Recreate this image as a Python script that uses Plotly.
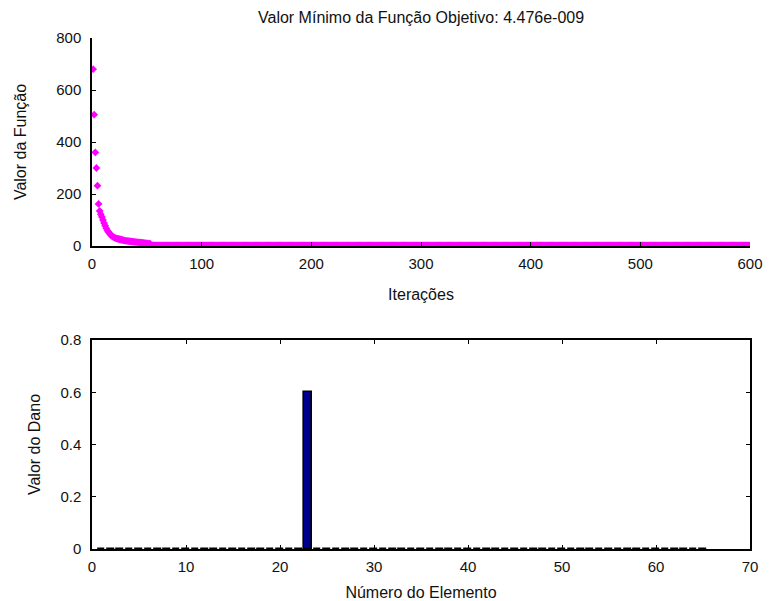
import plotly.graph_objects as go

# top panel: objective value per iteration
head_values = [
    680, 505, 360, 300, 232, 162, 135, 122, 112, 100,
    88, 78, 68, 60, 54, 48, 43, 39, 36, 33,
    31, 29, 28, 27, 26, 25, 24, 23, 22, 21,
    20, 20, 19, 19, 18, 17, 17, 16, 16, 15,
    15, 14, 14, 13, 13, 12, 12, 11, 11, 10,
    10, 9, 9,
]
tail_values = [2.0] * (600 - len(head_values))
func_values = head_values + tail_values
iterations = list(range(1, len(func_values) + 1))

# bottom panel: damage per element
elements = list(range(1, 66))
damage = [0.0] * 65
damage[22] = 0.6  # element 23

title_text = "Valor Mínimo da Função Objetivo: 4.476e-009"

FONT = "Liberation Sans, Arial, sans-serif"

W, H = 769, 601


def px_x(v):
    return v / W


def px_y(v):
    return 1 - v / H


fig = go.Figure()

fig.add_trace(
    go.Scatter(
        x=iterations,
        y=func_values,
        mode="markers",
        marker={"symbol": "diamond", "size": 6, "color": "#FF00FF"},
        xaxis="x",
        yaxis="y",
        showlegend=False,
    )
)

fig.add_trace(
    go.Bar(
        x=elements,
        y=damage,
        width=0.8,
        marker={"color": "#00008F", "line": {"color": "black", "width": 1.6}},
        xaxis="x2",
        yaxis="y2",
        showlegend=False,
    )
)

axis_common = {
    "showgrid": False,
    "zeroline": False,
    "showline": True,
    "automargin": False,
    "linecolor": "black",
    "linewidth": 1.5,
    "ticks": "inside",
    "ticklen": 4,
    "tickcolor": "black",
    "ticklabeloverflow": "allow",
    "tickfont": {"size": 15, "color": "#111111", "family": FONT},
}

x_dom = [px_x(92), px_x(750)]

fig.update_layout(
    width=W,
    height=H,
    margin={"l": 0, "r": 0, "t": 0, "b": 0},
    paper_bgcolor="white",
    plot_bgcolor="white",
    font={"family": FONT, "color": "#111111"},
    bargap=0,
    xaxis={
        **axis_common,
        "domain": x_dom,
        "range": [0, 600],
        "tickvals": [0, 100, 200, 300, 400, 500, 600],
        "ticklabelstandoff": 3,
        "anchor": "y",
        "title": {"text": "Iterações", "font": {"size": 16}, "standoff": 18},
    },
    yaxis={
        **axis_common,
        "domain": [px_y(246), px_y(38)],
        "range": [0, 800],
        "tickvals": [0, 200, 400, 600, 800],
        "ticklabelstandoff": 6,
        "anchor": "x",
        "title": {"text": "Valor da Função", "font": {"size": 16}, "standoff": 26},
    },
    xaxis2={
        **axis_common,
        "domain": x_dom,
        "range": [0, 70],
        "tickvals": [0, 10, 20, 30, 40, 50, 60, 70],
        "ticklabelstandoff": 3,
        "mirror": "ticks",
        "anchor": "y2",
        "title": {"text": "Número do Elemento", "font": {"size": 16}, "standoff": 20},
    },
    yaxis2={
        **axis_common,
        "domain": [px_y(549), px_y(340)],
        "range": [0, 0.8],
        "tickvals": [0, 0.2, 0.4, 0.6, 0.8],
        "ticktext": ["0", "0.2", "0.4", "0.6", "0.8"],
        "ticklabelstandoff": 6,
        "mirror": "ticks",
        "anchor": "x2",
        "title": {"text": "Valor do Dano", "font": {"size": 16}, "standoff": 16},
    },
    annotations=[
        {
            "text": title_text,
            "xref": "paper",
            "yref": "paper",
            "x": px_x((92 + 750) / 2),
            "y": px_y(18),
            "xanchor": "center",
            "yanchor": "middle",
            "showarrow": False,
            "font": {"size": 16, "color": "#111111", "family": FONT},
        }
    ],
)

# drop the default 8px body margin so the figure fills the window exactly
fig.write_html(
    "out.html",
    config={"displayModeBar": False},
    post_script="document.body.style.margin='0';document.body.style.overflow='hidden';",
)
